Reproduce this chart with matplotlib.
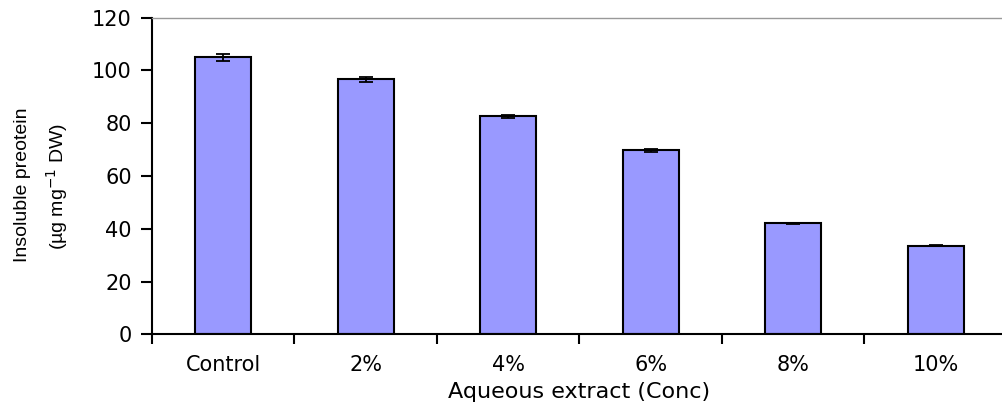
import matplotlib
matplotlib.use("Agg")
import matplotlib.pyplot as plt
import numpy as np

categories = ["Control", "2%", "4%", "6%", "8%", "10%"]
values = [105.0, 96.6, 82.6, 69.7, 42.0, 33.6]
errors = [1.3, 1.0, 0.5, 0.5, 0.3, 0.3]
y_ticks = [0, 20, 40, 60, 80, 100, 120]

plt.rcParams["font.family"] = ["DejaVu Sans"]

W, H = 1003, 407
fig = plt.figure(figsize=(W / 100, H / 100), dpi=100)
left, right, bottom, top = 152, 1007, 334.3, 17.5
ax = fig.add_axes([left / W, (H - bottom) / H, (right - left) / W, (bottom - top) / H])

x = np.arange(len(categories))
ax.bar(x, values, width=0.39, color="#9999FF", edgecolor="black", linewidth=1.5, zorder=2)
ax.errorbar(x, values, yerr=errors, fmt="none", ecolor="black", elinewidth=1.3,
            capsize=5, capthick=1.3, zorder=3)

ax.set_xlim(-0.5, len(categories) - 0.5)
ax.set_ylim(0, 120)
ax.set_yticks(y_ticks)
ax.set_yticklabels([str(t) for t in y_ticks], fontsize=15)

ax.set_xticks(x)
ax.set_xticklabels(categories, fontsize=15)
ax.set_xticks(np.arange(len(categories) + 1) - 0.5, minor=True)
ax.tick_params(axis="x", which="major", length=0, pad=15)
ax.tick_params(axis="x", which="minor", length=7, width=1.5, direction="out")
ax.tick_params(axis="y", which="major", length=8, width=1.5, direction="out", pad=6.5)

for side in ("left", "bottom"):
    ax.spines[side].set_linewidth(1.5)
    ax.spines[side].set_color("black")
ax.spines["top"].set_color("#999999")
ax.spines["top"].set_linewidth(1.0)
ax.spines["right"].set_color("#999999")
ax.spines["right"].set_linewidth(1.0)

ax.set_xlabel("Aqueous extract (Conc)", fontsize=16, labelpad=5)
label_font = ["Liberation Sans", "DejaVu Sans"]
fig.text(23 / W, (H - 185) / H, "Insoluble preotein", rotation=90, fontsize=14,
         family=label_font, ha="center", va="center")
fig.text(57 / W, (H - 186) / H, r"(µg mg$^{-1}$ DW)", rotation=90, fontsize=14,
         family=label_font, ha="center", va="center")

fig.savefig("out.png", dpi=100)
